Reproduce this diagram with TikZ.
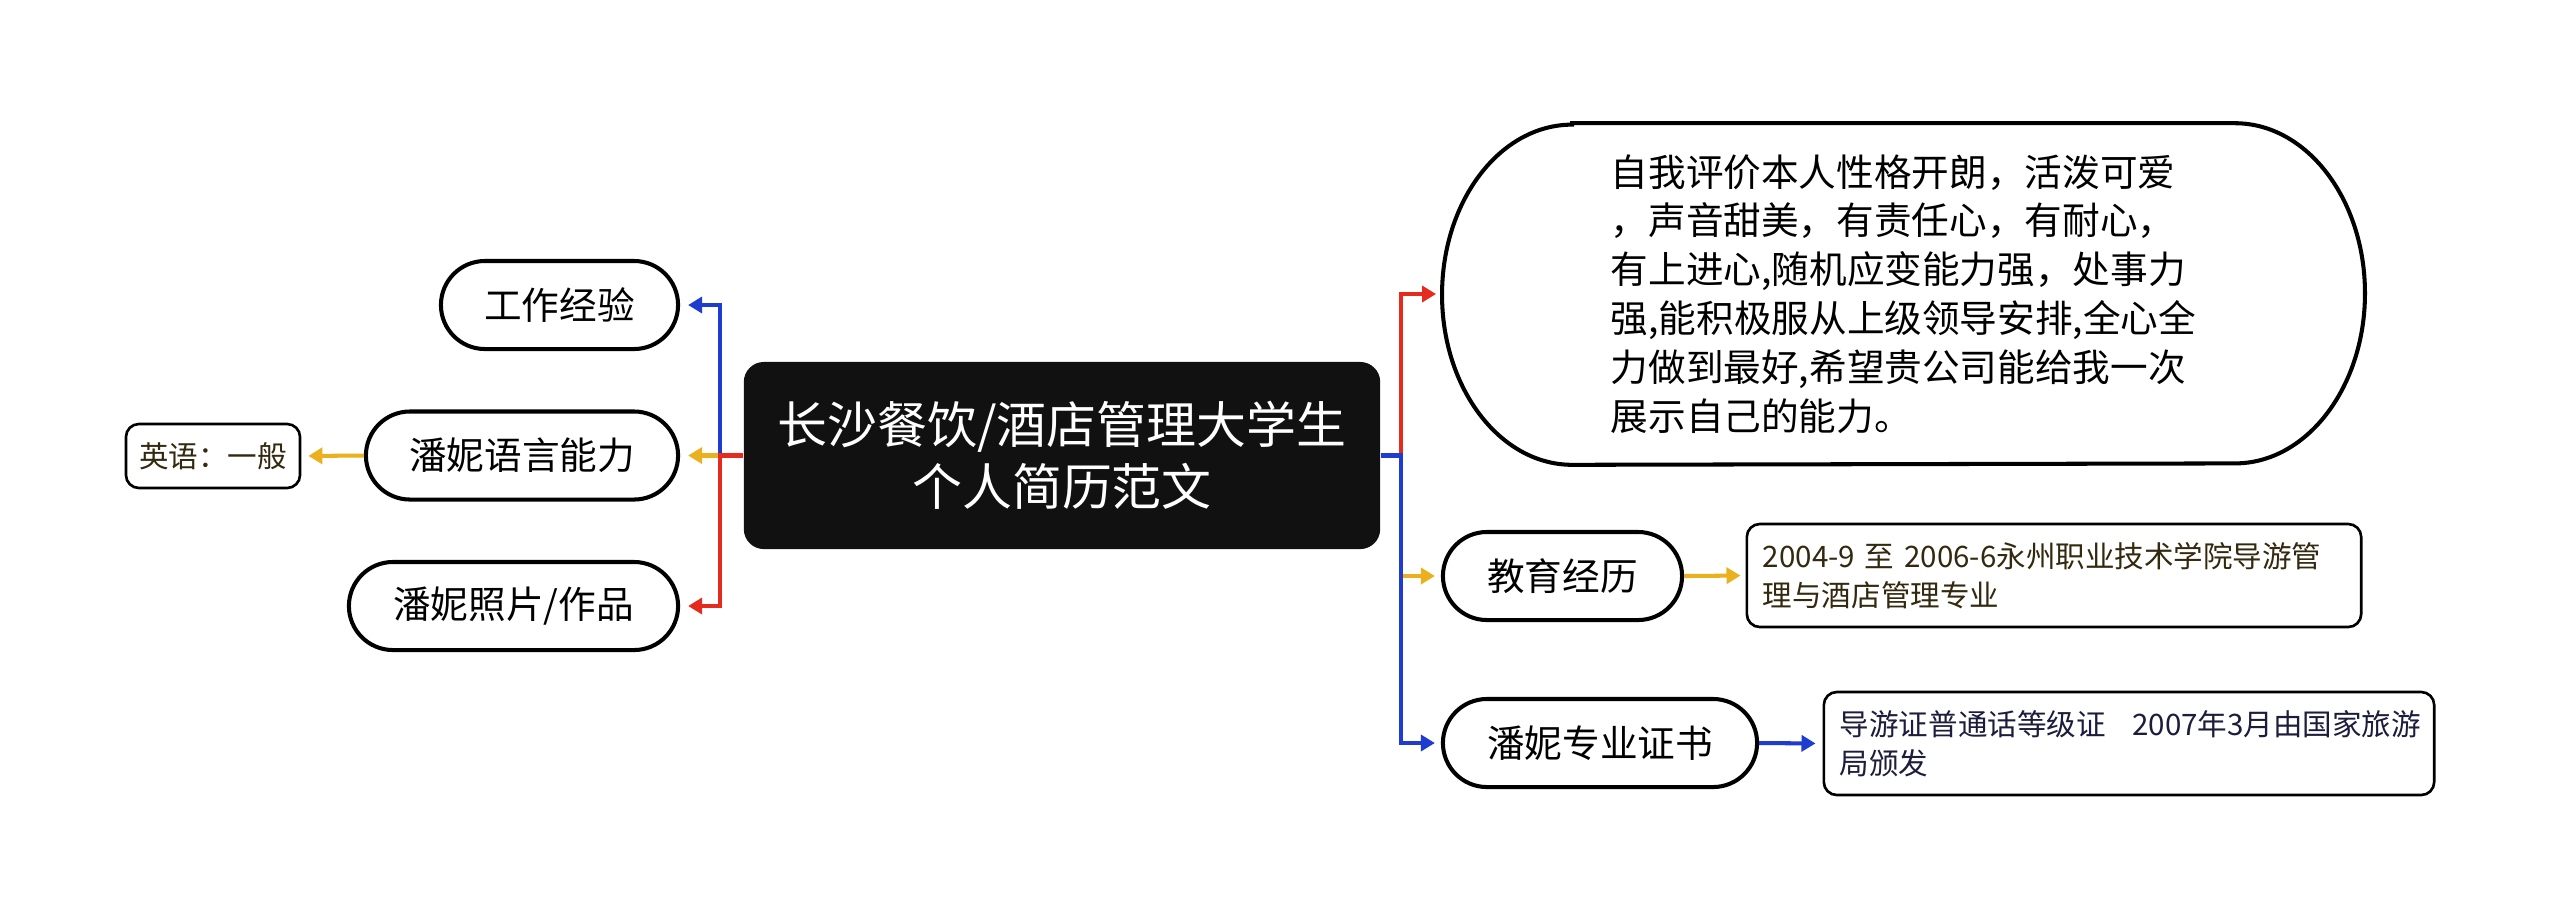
\documentclass[tikz,border=0pt]{standalone}
\usepackage{fontspec}
\setmainfont{Noto Sans CJK SC}
\usetikzlibrary{arrows.meta,calc}
\definecolor{cblue}{HTML}{1F3CD0}
\definecolor{cred}{HTML}{E52A1E}
\definecolor{cyellow}{HTML}{EBB01E}
\definecolor{ctxtbrown}{HTML}{33290F}
\definecolor{ctxtnavy}{HTML}{1C1C3C}
\definecolor{cdark}{HTML}{111111}
\tikzset{
  central/.style={fill=cdark, text=white, rounded corners=0.2cm, minimum width=6.36cm,
    minimum height=1.87cm, align=center, inner sep=0pt,
    font=\fontsize{14.2pt}{17.6pt}\selectfont},
  topic/.style={draw=black, line width=1.15pt, fill=white, rounded corners=0.44cm,
    minimum height=0.88cm, inner sep=0pt, font=\fontsize{10.7pt}{13.9pt}\selectfont},
  leaf/.style={draw=black, line width=0.75pt, fill=white, rounded corners=0.13cm,
    inner sep=0pt, font=\fontsize{8.4pt}{11.1pt}\selectfont},
  bigtopic/.style={align=left, minimum width=9.21cm, minimum height=3.40cm, inner sep=0pt,
    font=\fontsize{10.7pt}{13.9pt}\selectfont},
  conn/.style={line width=1.15pt, -{Triangle[length=0.14cm,width=0.16cm]}}
}
\begin{document}
\begin{tikzpicture}[x=0.01cm,y=-0.01cm]
\fill[white] (0,0) rectangle (2560,920);
\useasboundingbox (0,0) rectangle (2560,920);

% nodes
\node[central] (c) at (1062,455.5) {长沙餐饮/酒店管理大学生\\个人简历范文};

\node[topic, minimum width=2.37cm] (work) at (559.5,305) {工作经验};
\node[topic, minimum width=3.12cm] (lang) at (522,455.5) {潘妮语言能力};
\node[topic, minimum width=3.29cm] (photo) at (513.5,606) {潘妮照片/作品};
\node[leaf, minimum width=1.74cm, minimum height=0.64cm, text=ctxtbrown] (eng) at (213,456) {英语：一般};

\node[bigtopic] (self) at (1903.5,294) {自我评价本人性格开朗，活泼可爱\\，声音甜美，有责任心，有耐心，\\有上进心,随机应变能力强，处事力\\强,能积极服从上级领导安排,全心全\\力做到最好,希望贵公司能给我一次\\展示自己的能力。};
\draw[line width=1.15pt] ([xshift=1.3cm]self.north west) -- ([xshift=-1.3cm]self.north east)
  arc[start angle=90, end angle=-90, x radius=1.3cm, y radius=1.7cm]
  -- ([xshift=1.3cm]self.south west)
  arc[start angle=270, end angle=90, x radius=1.3cm, y radius=1.7cm] -- cycle;

\node[topic, minimum width=2.39cm] (edu) at (1562.5,576) {教育经历};
\node[topic, minimum width=3.14cm] (cert) at (1600,743) {潘妮专业证书};

\node[leaf, minimum width=6.14cm, minimum height=1.03cm, text width=5.82cm, align=left, text=ctxtbrown] (edud) at (2054,575.5) {\mbox{2004-9 至 2006-6永州职业技术学院导游管}\\理与酒店管理专业};
\node[leaf, minimum width=6.10cm, minimum height=1.03cm, text width=5.78cm, align=left, text=ctxtnavy] (certd) at (2129,743.5) {\mbox{导游证普通话等级证\hspace{0.9em}2007年3月由国家旅游}\\局颁发};

% junctions
\coordinate (jl) at (720,455.5);
\coordinate (jr) at (1401,455.5);

% connectors
\draw[conn,cblue,shorten >=0.08cm] (c.west) -- (jl) |- (work.east);
\draw[conn,cyellow,shorten >=0.08cm] (c.west) -- (lang.east);
\draw[conn,cred,shorten >=0.08cm] (c.west) -- (jl) |- (photo.east);
\draw[conn,cred,shorten >=0.06cm] (c.east) -- (jr) |- (self.west);
\draw[conn,cyellow,shorten >=0.06cm] (c.east) -- (jr) |- (edu.west);
\draw[conn,cblue,shorten >=0.06cm] (c.east) -- (jr) |- (cert.west);
\draw[conn,cyellow,shorten >=0.07cm] (lang.west) -- (eng.east);
\draw[conn,cyellow,shorten >=0.05cm] (edu.east) -- (edud.west);
\draw[conn,cblue,shorten >=0.07cm] (cert.east) -- (certd.west);
\end{tikzpicture}
\end{document}
